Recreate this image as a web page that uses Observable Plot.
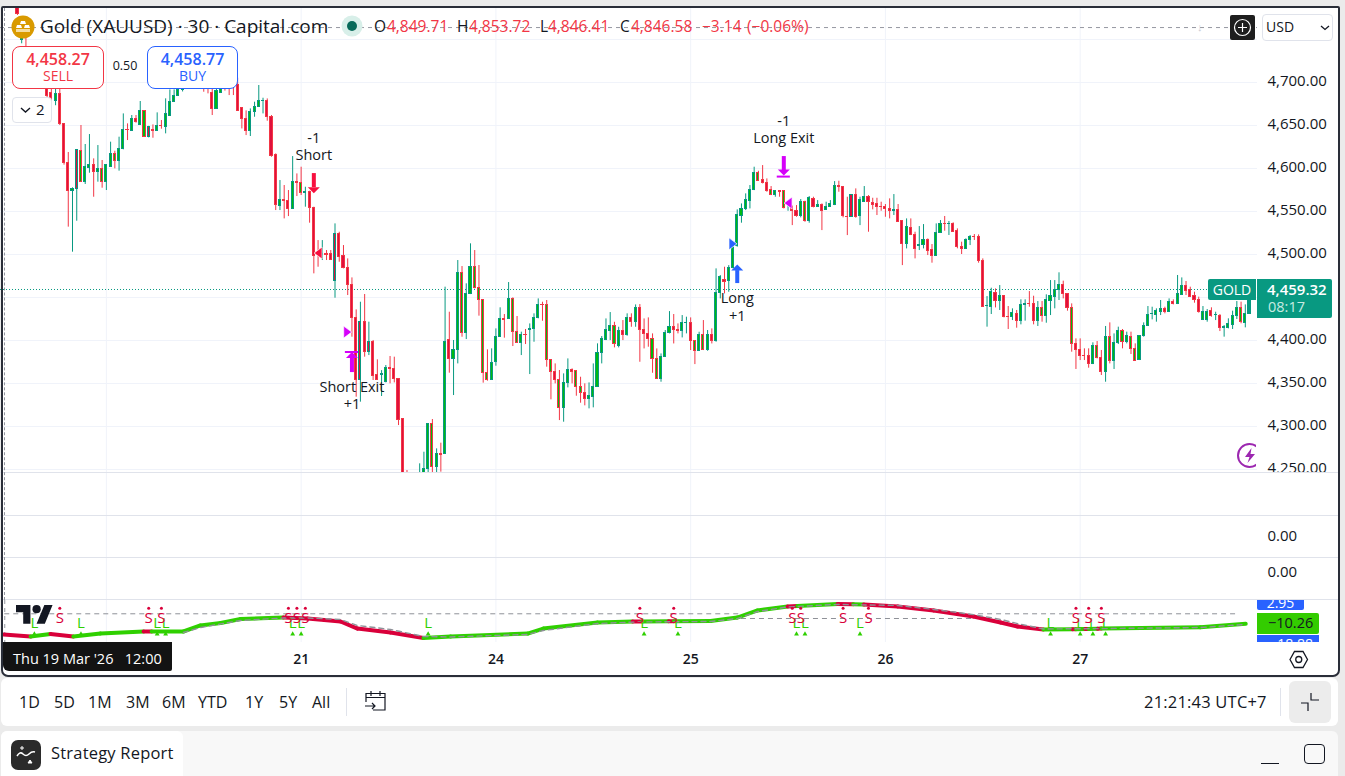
<!DOCTYPE html>
<html><head><meta charset="utf-8">
<script src="https://cdn.jsdelivr.net/npm/d3@7"></script>
<script src="https://cdn.jsdelivr.net/npm/@observablehq/plot@0.6"></script>
<style>
html,body{margin:0;padding:0;background:#ebebeb}
#stage{position:relative;width:1345px;height:776px;overflow:hidden;background:#ebebeb;font-family:"Open Sans",sans-serif;color:#131722}
#stage>svg{position:absolute}
.a{position:absolute;white-space:pre;line-height:1}
.box{position:absolute;box-sizing:border-box}
</style></head><body><div id="stage"></div>
<script>
// ---------- candle values (USD per ounce), one entry per 30-minute bar ----------
const highs=[4810,4772,4760,4735,4712,4718,4722,4712,4700,4700,
4700,4652,4618.6,4577.5,4621.7,4650,4627.9,4639.5,4611.2,4626.7,
4609.3,4603.5,4630.6,4620.1,4636.4,4663.5,4651.9,4661.6,4661.6,4677.9,
4667.4,4649,4650.7,4664.7,4655.8,4681,4691.4,4691.4,4700,4712,
4722,4726,4730,4728,4715,4708,4700,4705,4705,4710,
4712,4708,4705,4670,4667,4669.3,4677.1,4696.5,4681.7,4680.9,
4661.6,4617,4586,4580.2,4574.4,4613.9,4593.7,4601.5,4578.2,4573.6,
4555,4516.2,4516.2,4504.6,4504.6,4535.6,4525.9,4510.4,4494.9,4472.8,
4435.6,4444.5,4453.5,4421.3,4400,4377.5,4365,4370.9,4381.4,4380.6,
4355.4,4308.9,4248.8,4235,4240,4256.6,4270.1,4303,4308.1,4274,
4280.6,4462,4432.9,4400,4493,4486,4465.9,4512.4,4504.6,4487.2,
4447.3,4389.1,4390.3,4413.5,4438,4430.2,4467.4,4449.6,4427.9,4409.7,
4412.8,4419.3,4431,4448.4,4444.5,4446.5,4377.5,4372.8,4365.1,4361.2,
4378.6,4367,4365.1,4357.3,4349.6,4350.7,4372.8,4396.1,4404.6,4425.1,
4432.5,4421.2,4415.4,4423.2,4431,4431,4441.4,4441.8,4425.1,4426.3,
4407.7,4390.2,4384.4,4411.6,4433.6,4430.2,4419.3,4429,4427.1,4426.3,
4399.9,4409.6,4423.2,4411.6,4413.5,4483.3,4475.5,4485.2,4487.1,4510.4,
4551.9,4558.8,4570.5,4580.2,4601.5,4596.8,4603.4,4587.9,4579,4574.3,
4574.3,4574.3,4562.7,4556.5,4556.9,4563.9,4562,4567.4,4566.6,4562.7,
4558.8,4560.8,4562.7,4584.8,4585.2,4579,4566.6,4569.7,4576.3,4566.6,
4579,4568.5,4565.4,4565.4,4560.8,4558.1,4564.7,4569.7,4558.1,4538.7,
4541.4,4541.4,4525.9,4532.5,4534.8,4518.1,4511.6,4535.6,4539.5,4544.2,
4538.4,4536.8,4529.8,4514.3,4518.2,4522.1,4523.2,4522.8,4494.9,4451.1,
4460.8,4460,4463.9,4452.3,4439.5,4436.8,4434.9,4447.3,4447.3,4456.9,
4451.5,4445.3,4445.3,4453.1,4469.7,4469.7,4478.7,4469,4454.2,4442.6,
4401.9,4401.9,4390.3,4390.3,4397.3,4398.8,4388.4,4416.3,4420.5,4407.7,
4415.5,4412.8,4409.7,4409.7,4396.1,4405.8,4420.5,4439.5,4438.7,4436.8,
4446.5,4438.7,4448.4,4447.3,4475.6,4472.8,4468.6,4462,4456.2,4450.4,
4439.5,4436,4438,4432.9,4430.2,4417.4,4425.2,4434.1,4445.3,4444.6,
4441.4,4462];
const bodyTops=[4805,4762,4740,4730,4710,4712,4716,4705,4688,4687,
4686.8,4651.9,4606.6,4576.3,4621.7,4620.9,4602.3,4603.5,4603.5,4600,
4600,4603.5,4616.3,4616.3,4622.8,4644.2,4644.9,4658.1,4658.1,4667.4,
4667.4,4648.8,4644.2,4650,4650,4662.8,4677.9,4684.8,4691.4,4705,
4714,4714,4720,4720,4706,4700,4688,4690,4695,4703,
4706,4702,4697,4670,4657.7,4666.2,4672,4679,4679,4679,
4660.4,4615.8,4563.5,4563.5,4562.7,4584.4,4584.4,4583.7,4572.4,4572.8,
4554.2,4500.7,4500.7,4500.7,4500.7,4524,4524,4498.8,4484.5,4464.3,
4425.9,4421.3,4421.3,4398,4398.4,4360,4361.2,4368.2,4368.2,4367,
4355.4,4308.9,4245,4230,4232,4235,4250.7,4303,4303,4268.2,
4268.2,4398,4400,4389.1,4478.6,4478.6,4454.2,4486,4486,4461.2,
4447.3,4362.4,4374,4404.6,4425.2,4425.2,4448.4,4448.4,4409.7,4406.6,
4406.6,4413.5,4426.3,4441.4,4441.4,4440.7,4377.5,4363.9,4354.2,4351.1,
4365.9,4365.9,4364.3,4345.7,4338.7,4334.9,4346.5,4385.6,4402.3,4412.3,
4417,4417,4411.6,4411.6,4426.3,4426.3,4437.9,4437.9,4412.3,4407.7,
4401.9,4378.6,4381.3,4408.8,4415.8,4415.8,4412.3,4420.5,4420.9,4420.5,
4399.2,4406.9,4406.9,4406.5,4406.9,4455.4,4474.3,4470.5,4484.4,4508.5,
4546,4553,4563.5,4575.1,4595.3,4595.3,4587.1,4583.3,4575.1,4574,
4574,4573.6,4560.4,4555.7,4550.3,4561.2,4561.2,4565.8,4565,4557.7,
4557.7,4555.7,4559.2,4579.8,4579.8,4579,4544.1,4569.7,4569.7,4563.5,
4567,4567.4,4560.4,4558.8,4555.7,4555.4,4553,4551.9,4551.9,4538.7,
4531.7,4531.3,4522.8,4511.2,4517,4517,4505.4,4525.2,4535.6,4535.6,
4535.6,4535.6,4527.9,4509.3,4517,4520.5,4520.5,4520.9,4493,4440.3,
4456.9,4455.4,4452.3,4451.9,4427.9,4432.2,4431,4441.5,4442.6,4442.6,
4442.6,4438,4438,4447.3,4451.9,4459.3,4465.1,4465.1,4454.2,4438,
4396.1,4388.4,4382.2,4381.4,4393.8,4393.8,4379.8,4404.6,4404.6,4397.3,
4411.6,4411.6,4405,4404.6,4390.3,4405.8,4417.4,4429.8,4431,4434.5,
4436.8,4436.8,4445.3,4444.6,4454.2,4462.8,4462.8,4458.9,4451.9,4447.3,
4433.3,4433.3,4434.1,4429.8,4429,4415.5,4419.4,4428.6,4438,4438,
4431,4459.32];
const bodyBottoms=[4780,4749,4725,4715,4700,4704,4706,4684,4682,4678.3,
4651.9,4606.2,4573.6,4573.6,4576.3,4584.1,4584.1,4600.7,4595.7,4595.7,
4584.1,4584.1,4602.3,4608.5,4608.5,4622.5,4644.2,4643.4,4653.9,4650.4,
4636.4,4636.4,4643.4,4643.4,4649.2,4648,4661.6,4677.1,4684,4691,
4705,4708,4708,4706,4698,4694,4669.3,4669.3,4687.5,4695,
4700,4696,4667.4,4657.7,4644.1,4644.1,4665.5,4671.3,4678.2,4659.6,
4615,4557.7,4556.9,4562.7,4553,4553,4582.9,4571.3,4571.3,4554.2,
4498.8,4499.2,4499.2,4500,4493.8,4469,4496.9,4484.1,4464.3,4426.3,
4353.5,4353.5,4386.4,4386.4,4359.3,4353.5,4360.4,4351.5,4367.4,4355.4,
4308.1,4235,4240,4215,4218,4225,4235,4250.7,4252.7,4252.7,
4267.4,4268.2,4378.6,4378.6,4389.1,4408.5,4408.5,4454.2,4461.2,4447.3,
4362,4353.5,4354.2,4374.8,4404.6,4424.4,4425.2,4409.7,4396.9,4396.9,
4406.2,4412.4,4413.1,4426.3,4440.7,4377.5,4363.2,4354.2,4321.3,4321.3,
4350.7,4363.1,4345.7,4338.7,4332.1,4332.1,4334.1,4345.7,4385.2,4400.7,
4410.8,4396,4394.1,4406.5,4406.1,4421.2,4421.2,4412.3,4407.7,4401.9,
4378.6,4355.4,4355.4,4380.6,4408.8,4412.3,4411.2,4410.8,4420.5,4399.2,
4387.5,4387.5,4389.1,4389.1,4399.2,4399.2,4455.4,4468.5,4468.9,4484.4,
4509.6,4545.3,4552.6,4562.7,4575.1,4586,4582.9,4574.3,4569.7,4569.7,
4572.8,4554.2,4559.6,4550.3,4544.5,4544.5,4538.7,4538.7,4555,4555,
4551.1,4551.5,4555,4558.1,4579,4544.5,4543.7,4543.3,4544.1,4544.5,
4561.6,4560.8,4558.1,4555,4555,4552.6,4550.3,4551.1,4537.5,4512.3,
4512.3,4522.4,4506.5,4509.6,4511.2,4504.6,4498,4498,4525.2,4535.2,
4535.2,4526.7,4508.5,4506.2,4506.2,4516.3,4520.1,4492.2,4438.7,4439.9,
4438.7,4446.5,4446.5,4427.1,4427.1,4427.1,4422.5,4422.5,4441,4442.2,
4422.5,4422.5,4428.3,4428.3,4446.5,4451.1,4458.9,4454.2,4438,4396.1,
4389.1,4381.8,4381.4,4372.8,4372.8,4379.4,4363.2,4363.2,4376.7,4375.9,
4396.9,4398,4398,4390.3,4376.7,4377.5,4405,4416.6,4430.6,4430.2,
4433.7,4432.9,4432.9,4442.6,4442.6,4453.4,4458.1,4451.1,4447.3,4432.9,
4424,4424,4428.3,4429.4,4414.7,4415.1,4414.7,4418.6,4428.3,4421.3,
4420.9,4431];
const lows=[4778,4745,4720,4700,4692,4696,4702,4673,4678,4673,
4650,4603.9,4531.8,4502.7,4538.7,4584,4581.4,4594.5,4566.6,4584.1,
4577.1,4574.4,4602.3,4599.6,4596.9,4621.7,4632.5,4643.4,4652.7,4650,
4636.4,4635.6,4635.2,4643.4,4645.7,4640.3,4661.6,4677.1,4684,4689,
4702,4704,4706,4700,4688.7,4686.8,4661.6,4669.3,4687.5,4690,
4684.8,4684.8,4667.4,4646,4638.3,4637.2,4659.6,4671.3,4663.5,4655,
4613.1,4551.1,4551.1,4541.4,4544.1,4552.3,4567.4,4568.6,4555,4536.4,
4477.5,4485.2,4493,4493,4493,4449.2,4491,4483.3,4452.3,4403.8,
4334.1,4328.3,4380.6,4382.5,4353.5,4353.5,4334.9,4350.7,4349.6,4350.7,
4301.1,4225,4225,4210,4215,4215,4228,4245,4240,4245,
4246.9,4268.2,4362,4336,4372.8,4403.8,4401.1,4453.4,4460,4428.3,
4350.4,4352.7,4353.5,4370.1,4403.8,4402.7,4425.2,4393,4396.9,4382.5,
4395.3,4360.4,4398,4425.2,4422.4,4369,4331,4349.6,4306.9,4305,
4344.9,4349.6,4335.2,4327.1,4324,4320.5,4321.7,4345.7,4372.8,4399.9,
4399.9,4391.4,4391.4,4399.9,4405,4415.4,4415.4,4374.7,4390.2,4392.2,
4361.9,4355.4,4351.5,4380.6,4407.7,4396,4407.7,4403,4407.7,4388.3,
4372,4387.5,4388.3,4387.5,4396,4398,4448.4,4454.2,4456.1,4483.3,
4508.5,4536.4,4551.1,4553,4574.3,4586,4582.1,4572.4,4568.5,4566.6,
4566.6,4553,4550.3,4533.6,4543.3,4542.6,4537.5,4536.4,4554.2,4555,
4527.8,4551.5,4555,4556.9,4572.4,4542.6,4522,4543.3,4542.2,4533.6,
4560.8,4525.9,4551.9,4545.3,4550.3,4543.3,4541.4,4545.3,4537.5,4487.1,
4506.5,4522,4494.9,4504.6,4506.5,4498.8,4489.9,4498,4524.8,4527.1,
4522.1,4526,4506.6,4500,4505.8,4510.4,4516.3,4489.9,4438.7,4415.5,
4430.2,4437.9,4434.9,4426.3,4412.8,4423.2,4414.3,4418.2,4422.5,4438.7,
4418.2,4416.3,4421.3,4420.1,4429,4436.8,4446.5,4448.4,4434.1,4386.4,
4366.3,4376.7,4376.7,4367.8,4372,4378.6,4359.3,4351.5,4372.8,4366.3,
4395.3,4390.3,4396.1,4383.7,4376,4376.7,4403.9,4416.6,4424,4421.3,
4429,4431,4432.9,4441.4,4441.8,4452.3,4452.3,4450.4,4443.4,4431.8,
4423.2,4421.3,4427.1,4423.2,4410.4,4403.9,4413.5,4412.8,4424.4,4419.4,
4414.7,4431];
// u = close above open, d = close below open (grouped in fives)
const directions=`duddd uuddu ddduu duudu duudu ududu dudud uuuuu ududd dduud
ddddd uuuud ddudd uddud ddudd udddd dudud duudd ddddu uuudu
duduu duudd dduuu duddu duuud ddddu udddd uuuuu ududu duddd
dduuu dduud dudud uuduu uuuuu ddddu ddudd ududu duuud ddudu
udddd ddudd udduu dduud udddu udddu ududd uduud duduu uuddd
ddddu ddudu ududd uuuuu ududu udddd uudud uuuud uu`.replace(/\s/g,"");
// bars whose strategy fill disagrees with their direction
const greenFillDownBars=[15,20,23,30,67,98,105,108,109,110,111,117,118,125,126,128,132,133,141,150,151,160,162,175,178,181,186,242,249,255,258,261,263,264,289];
const redFillUpBars=[14,31,75,81,83,197];
const openBar=291;
const lastPrice=4459.32;
const crosshairPrice=4763.9, crosshairBar=-3;

// ---------- axes ----------
const priceTicks=[4250,4300,4350,4400,4500,4550,4600,4650,4700];
const priceGrid=[4250,4300,4350,4400,4450,4500,4550,4600,4650,4700,4750];
const dayBars=[21,67,113,159,205,251];
const dayLabels=["","21","24","25","26","27"];

// ---------- strategy orders ----------
const orderBars=[70,79,170,181];
const orderNames=["Short","Short Exit","Long","Long Exit"];
const orderQty=["-1","+1","+1","-1"];
const orderNamePrice=[4615,4345.2,4448.8,4634.8];
const orderQtyPrice=[4634.8,4325.5,4427.8,4654.6];
const shaftFrom=[4594.1,4362.7,4466.2,4613.9];
const shaftTo=[4577.8,4380.2,4481.3,4597.6];
const headAt=[4574.6,4383,4484.8,4595.3];
const orderColor=["#f7103f","#d500f9","#2962ff","#d500f9"];
const capPrice=[null,4386.6,null,4590.6];
const fillBars=[71,78,169,182];
const fillPrices=[4501.7,4409.8,4512.4,4559.8];
const fillSides=["left","right","right","left"];
const fillColor=["#f7103f","#d500f9","#2962ff","#d500f9"];

// ---------- oscillator ----------
const oscBars=[-3.3,3.1,7.8,13.2,19.6,29.8,31.7,39.2,43.2,48,52.7,62.8,68.5,76.3,80.3,88.1,95.9,102.3,120.5,124.2,137,145.3,147.6,153.8,155,163.7,170,174.8,181.9,184.2,193.7,197.4,199.9,207.9,216.4,225.8,232.2,236.2,242.3,249.2,250,252.2,253,255.1,256,279.4,290.1];
const oscValues=[-17.5,-18.9,-17.2,-18.9,-16.9,-15.5,-15.5,-15.5,-11.4,-9.7,-7,-6,-6.7,-8.7,-13.5,-16.2,-19.9,-18.9,-16.9,-13.5,-9.4,-8.7,-8.7,-8.6,-8.6,-8.4,-6,-1.2,1.5,1.9,3.2,3,2.8,1.5,-1.2,-5.3,-9.4,-12.1,-14.1,-13.9,-13.9,-13.8,-13.8,-13.6,-13.5,-12.6,-10.26];
const oscTones="rgrggrggggg rrrrr ggggg rgrgggg rgrg rrrrrr g rgrgrg gg".replace(/\s/g,"").split("");
const signalBars=[39.2,43.2,52.7,62.8,68.5,76.3,80.3,88.1,95.9,102.3,120.5,124.2,137,146.4,163.7,170,174.8,181.9,193.7,207.9,216.4,225.8,232.2,236.2,242.3,255.8,279.4,290.1];
const signalValues=[-16.2,-12.8,-8,-6.3,-6.3,-7.3,-11.4,-14.1,-18.9,-19.2,-17.5,-14.8,-10.1,-9,-8.7,-6.7,-1.9,1.2,2.9,2.2,-0.5,-4,-7.3,-10.1,-13.8,-13.5,-12.8,-10.7];
const levelStartBars=[-3,171,227];
const levelEndBars=[170.4,226.4,288];
const levelValues=[-3.46,-6.66,-3.46];
const shortSignalBars=[10,31,34,64,66,68,147,155,183,185,195,201,250,253,256];
const longSignalBars=[4,15,33,35,65,67,97,148,156,184,186,199,244,251,254,257];
const shortLetterValue=-6.66, shortDotValue=0.35, longLetterValue=-10.06, longTriangleValue=-17.2;

// ---------- colours ----------
const UP="#089981", DOWN="#f23645", FILLG="#00bb10", FILLR="#e0103c", GRID="#f0f3fa", SEP="#e0e3eb", INK="#131722", OSC_G="#2fd000", OSC_R="#d9003a";
const FONT='"Open Sans",sans-serif';

// ---------- rows ----------
const candles=highs.map((h,i)=>{
  const up=directions[i]==="u";
  let fill=up?FILLG:FILLR;
  if(greenFillDownBars.includes(i))fill=FILLG;
  if(redFillUpBars.includes(i))fill=FILLR;
  if(i===openBar)fill=UP;
  return {i,h,l:lows[i],t:bodyTops[i],b:bodyBottoms[i],c:up?UP:DOWN,fill};
});
const orders=orderBars.map((i,k)=>({i,name:orderNames[k],qty:orderQty[k],np:orderNamePrice[k],qp:orderQtyPrice[k],from:shaftFrom[k],to:shaftTo[k],head:headAt[k],col:orderColor[k],cap:capPrice[k],down:k===0||k===3}));
const fills=fillBars.map((i,k)=>({i,p:fillPrices[k],side:fillSides[k],col:fillColor[k]}));
const oscSegments=[];
for(let k=0;k<oscBars.length-1;k++){
  const col=oscTones[k]==="r"?OSC_R:OSC_G;
  oscSegments.push({run:k,col,i:oscBars[k],v:oscValues[k]},{run:k,col,i:oscBars[k+1],v:oscValues[k+1]});
}
const signalRows=signalBars.map((i,k)=>({i,v:signalValues[k]}));
const levelRows=levelStartBars.map((s,k)=>({s,e:levelEndBars[k],v:levelValues[k]}));

// ---------- custom marker shapes ----------
const shape=pts=>({draw(c){pts.forEach((p,n)=>n?c.lineTo(p[0],p[1]):c.moveTo(p[0],p[1]));c.closePath();}});
const headDown=shape([[-6,-3],[6,-3],[0,3]]);
const headUp=shape([[-6,3],[6,3],[0,-3]]);
const triLeft=shape([[-4,0],[4,-6],[4,6]]);
const triRight=shape([[4,0],[-4,-6],[-4,6]]);

// ---------- shared x scale: bar number to the 1257 px wide pane ----------
const xDomain=[-4.006,292.88];
const stage=document.getElementById("stage");
function place(el,left,top){el.style.left=left+"px";el.style.top=top+"px";el.style.background="transparent";stage.appendChild(el);return el;}
const baseStyle={fontFamily:FONT,background:"transparent",overflow:"hidden"};

// ---------- helpers for the surrounding app chrome ----------
function box(left,top,w,h,css){const d=document.createElement("div");d.className="box";d.style.cssText=`left:${left}px;top:${top}px;width:${w}px;height:${h}px;${css||""}`;stage.appendChild(d);return d;}
function txt(s,left,cy,size,color,extra){const d=document.createElement("div");d.className="a";d.textContent=s;d.style.cssText=`left:${left}px;top:${cy-size/2-0.5}px;font-size:${size}px;color:${color||INK};${extra||""}`;stage.appendChild(d);return d;}
function ctxt(s,cx,cy,size,color,extra){return txt(s,cx-100,cy,size,color,`width:200px;text-align:center;${extra||""}`);}
function ico(html,left,top,w,h){const n=document.createElementNS("http://www.w3.org/2000/svg","svg");n.setAttribute("width",w);n.setAttribute("height",h);n.setAttribute("viewBox",`0 0 ${w} ${h}`);n.style.left=left+"px";n.style.top=top+"px";n.innerHTML=html;stage.appendChild(n);return n;}

box(1,7,1338,669,"background:#fff;border-radius:0 0 6px 6px");

// ---------- main price pane ----------
place(Plot.plot({
  width:1337,height:464,marginLeft:0,marginRight:80,marginTop:0,marginBottom:0,style:baseStyle,
  x:{domain:xDomain,axis:null},
  y:{domain:[4246.51,4786.05],axis:null},
  color:{type:"identity"},
  marks:[
    Plot.ruleX(dayBars,{stroke:GRID}),
    Plot.ruleY(priceGrid,{x1:xDomain[0],x2:xDomain[1],stroke:GRID}),
    Plot.ruleY([lastPrice],{x1:xDomain[0],x2:xDomain[1],stroke:UP,strokeDasharray:"1 2"}),
    Plot.ruleY([crosshairPrice],{x1:xDomain[0],x2:xDomain[1],stroke:"#9598a1",strokeDasharray:"4 4"}),
    Plot.ruleX(candles,{x:"i",y1:"l",y2:"h",stroke:"c",strokeWidth:1,clip:true}),
    Plot.rect(candles,{x1:d=>d.i-0.25,x2:d=>d.i+0.25,y1:"b",y2:"t",fill:"fill",stroke:"c",strokeWidth:1,shapeRendering:"crispEdges",clip:true}),
    Plot.ruleX(orders,{x:"i",y1:"from",y2:"to",stroke:"col",strokeWidth:4}),
    Plot.dot(orders.filter(d=>d.down),{x:"i",y:"head",symbol:headDown,fill:"col",stroke:"none"}),
    Plot.dot(orders.filter(d=>!d.down),{x:"i",y:"head",symbol:headUp,fill:"col",stroke:"none"}),
    Plot.ruleY(orders.filter(d=>d.cap),{y:"cap",x1:d=>d.i-1.55,x2:d=>d.i+1.55,stroke:"col",strokeWidth:2}),
    Plot.dot(fills.filter(d=>d.side==="left"),{x:"i",y:"p",symbol:triLeft,fill:"col",stroke:"#fff",strokeWidth:0.7}),
    Plot.dot(fills.filter(d=>d.side==="right"),{x:"i",y:"p",symbol:triRight,fill:"col",stroke:"#fff",strokeWidth:0.7}),
    Plot.text(orders,{x:"i",y:"np",text:"name",fontSize:14.5,fill:INK,fontFamily:FONT}),
    Plot.text(orders,{x:"i",y:"qp",text:"qty",fontSize:14.5,fill:INK,fontFamily:FONT}),
    Plot.axisY(priceTicks,{anchor:"right",tickSize:0,tickPadding:10,dy:-1,tickFormat:d3.format(",.2f"),fontSize:15,fill:INK,label:null,fontFamily:FONT})
  ]
}),0,8);

// ---------- collapsed panes ----------
function emptyPane(top,h,zeroOffset){
  const ticks=zeroOffset==null?[]:[0];
  const y0=zeroOffset==null?0.5:zeroOffset/h;
  place(Plot.plot({
    width:1337,height:h,marginLeft:0,marginRight:80,marginTop:0,marginBottom:0,style:baseStyle,
    x:{domain:xDomain,axis:null},
    y:{domain:[-(1-y0),y0],axis:null},
    marks:[
      Plot.ruleX(dayBars,{stroke:GRID}),
      Plot.axisY(ticks,{anchor:"right",tickSize:0,tickPadding:10,tickFormat:d=>d.toFixed(2),fontSize:15,fill:INK,label:null,fontFamily:FONT})
    ]
  }),0,top);
}
emptyPane(472,43,null);
emptyPane(515,42,21);
emptyPane(557,43,15);
box(0,472,1338,1,`background:${SEP}`);
box(0,515,1338,1,`background:${SEP}`);
box(0,557,1338,1,`background:${SEP}`);
box(0,599,1338,1,`background:${SEP}`);

// ---------- oscillator pane with the date axis ----------
place(Plot.plot({
  width:1337,height:76,marginLeft:0,marginRight:80,marginTop:0,marginBottom:34,style:baseStyle,
  x:{domain:xDomain,axis:null},
  y:{domain:[-22.98,5.58],axis:null},
  color:{type:"identity"},
  marks:[
    Plot.ruleX(dayBars,{stroke:GRID}),
    Plot.ruleX([crosshairBar],{stroke:"#9598a1",strokeDasharray:"4 4"}),
    Plot.ruleY(levelRows,{y:"v",x1:"s",x2:"e",stroke:"#8f9198",strokeDasharray:"5 4",strokeWidth:1}),
    Plot.dot(longSignalBars,{x:d=>d,y:longTriangleValue,symbol:"triangle",r:1.8,fill:OSC_G,stroke:"none"}),
    Plot.line(oscSegments,{x:"i",y:"v",z:"run",stroke:"col",strokeWidth:4,strokeLinecap:"round"}),
    Plot.line(signalRows,{x:"i",y:"v",stroke:"#8f9198",strokeWidth:1.4,strokeDasharray:"5 4"}),
    Plot.text(longSignalBars,{x:d=>d,y:longLetterValue,text:()=>"L",fontSize:15,fill:OSC_G,fontFamily:FONT}),
    Plot.text(shortSignalBars,{x:d=>d,y:shortLetterValue,text:()=>"S",fontSize:15,fill:OSC_R,fontFamily:FONT}),
    Plot.dot(shortSignalBars,{x:d=>d,y:shortDotValue,r:1.5,fill:OSC_R,stroke:"none"}),
    Plot.axisX(dayBars,{anchor:"bottom",tickSize:0,tickPadding:12,tickFormat:d=>dayLabels[dayBars.indexOf(d)],fontSize:14,fontWeight:600,fill:INK,label:null,fontFamily:FONT})
  ]
}),0,600);

// ---------- crosshair vertical through the price and empty panes ----------
const chx=document.createElement("div");chx.className="box";chx.style.cssText="left:4px;top:8px;width:0;height:592px;border-left:1px dashed #9598a1";stage.appendChild(chx);

// ---------- frame ----------
box(1,6,1339,671,"border:2px solid #2a2e39;border-radius:2px 2px 7px 7px;pointer-events:none");

// ---------- top legend ----------
ico(`<circle cx="12" cy="12" r="11.5" fill="#d99a00"/><path d="M5 13h6l-1-3H6zM13 13h6l-1-3h-4zM9 9h6l-1-3h-4z" fill="#fff"/><rect x="5" y="14" width="14" height="3" fill="#f5dda0"/>`,11,15,24,24);
txt("Gold (XAUUSD) · 30 · Capital.com",40,27,19,INK);
ico(`<circle cx="11" cy="11" r="10.5" fill="#d8efe9"/><circle cx="11" cy="11" r="5" fill="#086a5a"/>`,341,15,22,22);
txt("O",374,27,15.5,INK);txt("4,849.71",387,27,15.5,DOWN);
txt("H",457,27,15.5,INK);txt("4,853.72",469,27,15.5,DOWN);
txt("L",540,27,15.5,INK);txt("4,846.41",548,27,15.5,DOWN);
txt("C",620,27,15.5,INK);txt("4,846.58",631,27,15.5,DOWN);
txt("−3.14",702,27,15.5,DOWN);txt("(−0.06%)",747,27,15.5,DOWN);
txt("↓",1197,27,11,"#c9ccd3");
ico(`<rect x="0" y="0" width="25" height="25" rx="2" fill="#1e1e1e"/><circle cx="12.5" cy="12.5" r="8" fill="none" stroke="#fff" stroke-width="1.2"/><path d="M12.5 8v9M8 12.5h9" stroke="#fff" stroke-width="1.2"/>`,1230,15,25,25);
box(1262,14,71,27,"background:#fff;border:1px solid #e0e3eb;border-radius:4px");
txt("USD",1266,27.5,14,INK);
ico(`<path d="M1 1l4 3.5L9 1" fill="none" stroke="#131722" stroke-width="1.3"/>`,1320,25,10,6);

// ---------- buy / sell ----------
box(12,46,92,43,"background:#fff;border:1px solid #f23645;border-radius:8px");
ctxt("4,458.27",58,59,16,DOWN,"font-weight:600");
ctxt("SELL",58,76,14,DOWN);
ctxt("0.50",125,66.5,12.5,INK);
box(147,46,91,43,"background:#fff;border:1px solid #2962ff;border-radius:8px");
ctxt("4,458.77",192.5,59,16,"#2962ff","font-weight:600");
ctxt("BUY",192.5,76,14,"#2962ff");
box(12,97,40,26,"background:#fff;border:1px solid #e0e3eb;border-radius:4px");
ico(`<path d="M1 1l4.5 4L10 1" fill="none" stroke="#131722" stroke-width="1.4"/>`,20,107,11,7);
txt("2",36,110,15,INK);

// ---------- last-price tags ----------
box(1208,279,48,21,`background:${UP};border-radius:2px 0 0 2px`);
ctxt("GOLD",1232,290,14,"#fff");
box(1257,279,75,39,`background:${UP};border-radius:0 2px 2px 0`);
txt("4,459.32",1267,289.5,15,"#fff","font-weight:600");
txt("08:17",1268,308,14.5,"#c8ebe2");
ico(`<circle cx="13.5" cy="13.5" r="11.5" fill="none" stroke="#9c27b0" stroke-width="2"/><path d="M15.5 6l-6.5 9h4.5l-2 6 7.5-9h-4.5z" fill="#9c27b0"/>`,1236,442,20,27);

// ---------- oscillator tags ----------
const t1=box(1257,600,47,10,"background:#2962ff;overflow:hidden;border-radius:0 0 2px 2px");
t1.innerHTML='<div style="font-size:14px;color:#fff;text-align:center;margin-top:-5px;line-height:16px">2.95</div>';
box(1257,613,62,21,"background:#33cc00;border-radius:0 2px 2px 0");
txt("−10.26",1268,624,14.5,"#131722");
const t2=box(1257,635,62,7,"background:#2962ff;overflow:hidden");
t2.innerHTML='<div style="font-size:14px;color:#fff;text-align:right;padding-right:6px;margin-top:1px;line-height:16px">−18.88</div>';

// ---------- TradingView mark ----------
ico(`<g transform="scale(1.03)" fill="#131722"><path d="M14 22H7V11H0V4h14v18zM28 22h-8l7.5-18h8L28 22z"/><circle cx="20" cy="8" r="4"/></g>`,16,601,38,30);

// ---------- crosshair time tag ----------
box(3,642,169,29,"background:#131313;border-radius:0 0 2px 6px");
txt("Thu 19 Mar '26   12:00",13,660,14.5,"#fff");
ico(`<path d="M5 9.5L9.5 1.5h8.5l4.5 8-4.5 8H9.5z" fill="none" stroke="#131722" stroke-width="1.3"/><circle cx="13.75" cy="9.5" r="3" fill="none" stroke="#131722" stroke-width="1.3"/>`,1285,650,28,20);

// ---------- toolbar ----------
box(1,678,1337,48,"background:#fff;border-radius:6px");
[["1D",19],["5D",54],["1M",88],["3M",126],["6M",162],["YTD",198],["1Y",245],["5Y",279],["All",312]].forEach(([s,x])=>txt(s,x,702.5,16,INK));
box(346,688,1,28,"background:#e0e3eb");
ico(`<path d="M2 13V4.5h19V21H9M2 8.5h19M7 2v5M16 2v5M1 17h10M8 14l3 3-3 3" fill="none" stroke="#131722" stroke-width="1.2"/>`,364,689,24,24);
txt("21:21:43 UTC+7",1144,702.5,16.5,INK,"letter-spacing:.2px");
box(1280,688,1,28,"background:#e0e3eb");
box(1289,681,42,42,"background:#ececec;border-radius:6px");
ico(`<path d="M1 11h7v8M11 1v7h8" fill="none" stroke="#131722" stroke-width="1.2"/>`,1300,692,20,20);

// ---------- strategy report strip ----------
box(1,731,1337,45,"background:#f8f8f8;border-radius:6px 6px 0 0");
box(1,731,182,45,"background:#fff;border-radius:6px 6px 0 0");
ico(`<rect width="30" height="30" rx="7" fill="#2b2b2b"/><path d="M6 16q3-5 6-2t6 0 6-2" fill="none" stroke="#fff" stroke-width="1.5"/><path d="M9 8h4M11 6v4M17 23l2-3 2 3z" stroke="#fff" fill="#fff"/>`,11,740,30,30);
txt("Strategy Report",51,754,16.5,INK,"letter-spacing:.2px");
box(1261,763,18,1,"background:#131722");
box(1304,744,21,20,"border:1.3px solid #131722;border-radius:4px;background:transparent");
</script>
</body></html>
